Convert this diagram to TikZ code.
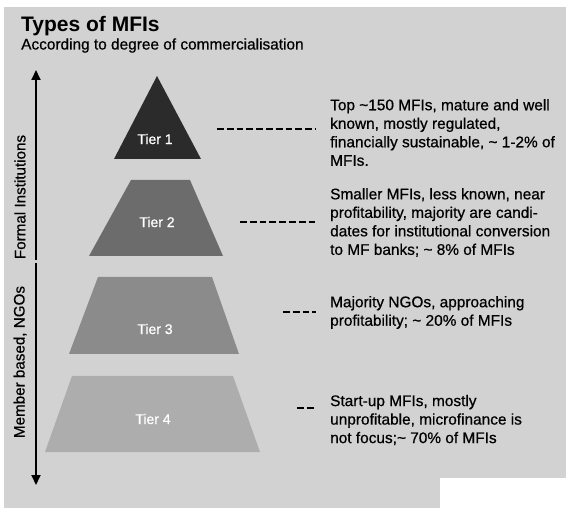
\documentclass[tikz,border=0pt]{standalone}
\usepackage{fontspec}
\setmainfont{Liberation Sans}
\newfontfamily\heavyfont[FakeBold=0.6]{Liberation Sans}
\usetikzlibrary{arrows.meta}
\definecolor{bggray}{HTML}{D2D2D2}
\definecolor{tierone}{HTML}{2B2B2B}
\definecolor{tiertwo}{HTML}{6C6C6C}
\definecolor{tierthree}{HTML}{8B8B8B}
\definecolor{tierfour}{HTML}{ADADAD}

\begin{document}
\begin{tikzpicture}[x=1pt,y=-1pt,>={Triangle[length=10pt,width=9pt]},
  tierlbl/.style={text=white,font=\heavyfont\fontsize{14}{16}\selectfont},
  desc/.style={anchor=west,inner sep=0pt,align=left,font=\heavyfont\fontsize{15.4}{18.5}\selectfont},
  sidelbl/.style={rotate=90,font=\heavyfont\fontsize{15.2}{18}\selectfont},
  dashline/.style={line width=2.4pt,dash pattern=on 6.8pt off 3pt,shorten >=14pt}]
  \useasboundingbox (0,0) rectangle (566,508);
  \fill[bggray] (4,7) rectangle (566,508);
  \fill[white] (440,478) rectangle (566,508);
  % title
  \node[anchor=base west,inner sep=0pt,font=\bfseries\fontsize{21}{24}\selectfont] (title) at (21,32) {Types of MFIs};
  \node[anchor=base west,inner sep=0pt,font=\heavyfont\fontsize{15.4}{18}\selectfont] (subtitle) at (21,49.5) {According to degree of commercialisation};
  % pyramid
  \fill[tierone] (157,76)--(114,159)--(201,159)--cycle;
  \fill[tiertwo] (131,180)--(190,180)--(223,256)--(89,256)--cycle;
  \fill[tierthree] (98,277)--(212,277)--(239,354)--(69,354)--cycle;
  \fill[tierfour] (72,376)--(233,376)--(260,452)--(45,452)--cycle;
  \node[tierlbl] (tier1) at (155,139) {Tier 1};
  \node[tierlbl] (tier2) at (157,222) {Tier 2};
  \node[tierlbl] (tier3) at (155,329) {Tier 3};
  \node[tierlbl] (tier4) at (153,419) {Tier 4};
  % side arrows
  \coordinate (up0) at (36,260);
  \coordinate (up1) at (36,70);
  \coordinate (dn0) at (36,263);
  \coordinate (dn1) at (36,485);
  \draw[->,line width=2pt] (up0)--(up1);
  \draw[->,line width=2pt] (dn0)--(dn1);
  \node[sidelbl] (formal) at (20,197) {Formal Institutions};
  \node[sidelbl] (member) at (20,362) {Member based, NGOs};
  % descriptions
  \node[desc] (txt1) at (330,132.5) {Top \textasciitilde150 MFIs, mature and well\\known, mostly regulated,\\financially sustainable, \textasciitilde{} 1-2\% of\\MFIs.};
  \node[desc] (txt2) at (330,222.5) {Smaller MFIs, less known, near\\profitability, majority are candi-\\dates for institutional conversion\\to MF banks; \textasciitilde{} 8\% of MFIs};
  \node[desc] (txt3) at (330,312.5) {Majority NGOs, approaching\\profitability; \textasciitilde{} 20\% of MFIs};
  \node[desc] (txt4) at (330,420) {Start-up MFIs, mostly\\unprofitable, microfinance is\\not focus;\textasciitilde{} 70\% of MFIs};
  \coordinate (d1) at (217,129);
  \coordinate (d2) at (240,222);
  \coordinate (d3) at (283,312);
  \coordinate (d4) at (297,408);
  \draw[dashline] (d1)--(d1 -| txt1.west);
  \draw[dashline] (d2)--(d2 -| txt2.west);
  \draw[dashline] (d3)--(d3 -| txt3.west);
  \draw[dashline] (d4)--(d4 -| txt4.west);
\end{tikzpicture}
\end{document}
